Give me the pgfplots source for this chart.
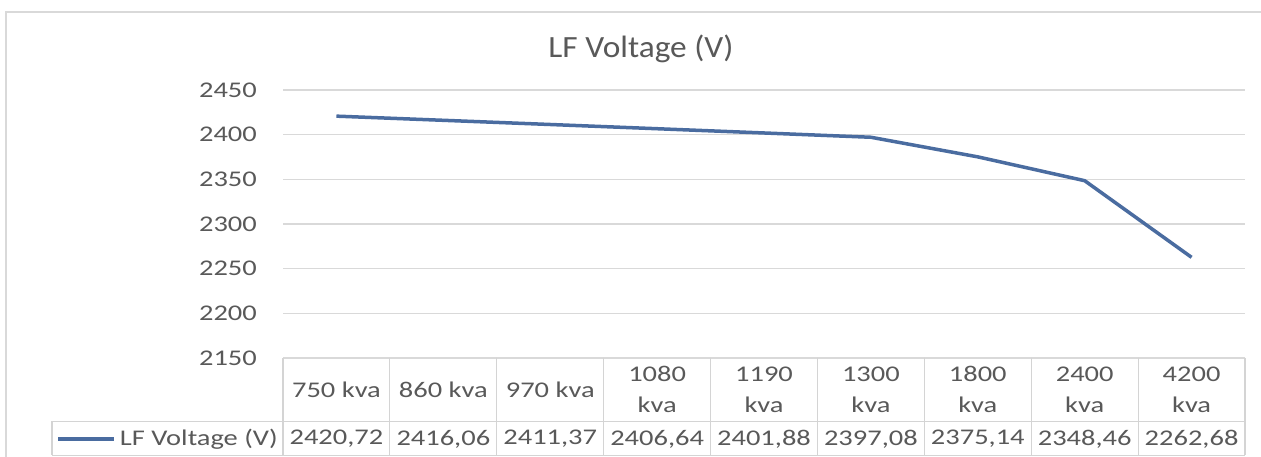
\documentclass[border=0pt]{standalone}
\usepackage{fontspec}
\setmainfont{Carlito}[FakeStretch=1.27]
\newfontfamily\titlefont{Carlito}[FakeStretch=1.08]
\usepackage{pgfplots}
\pgfplotsset{compat=1.18}
\usepackage{pgfplotstable}
\definecolor{txt}{HTML}{595959}
\definecolor{grd}{HTML}{D9D9D9}
\definecolor{tbl}{HTML}{D4D4D4}
\definecolor{ln}{HTML}{4A6CA0}

\pgfplotstableread{
x v
0 2420.72
1 2416.06
2 2411.37
3 2406.64
4 2401.88
5 2397.08
6 2375.14
7 2348.46
8 2262.68
}\data

\begin{document}
\begin{tikzpicture}[x=1bp,y=1bp]
\path[use as bounding box, fill=white] (0,0) rectangle (1261,457);
% chart area border
\draw[grd, line width=1.5bp] (6,0) -- (6,445) -- (1261,445);
% title
\node[anchor=base, inner sep=0pt, text=txt, font=\titlefont\fontsize{31}{36}\selectfont] at (641,399) {LF Voltage (V)};
\begin{axis}[
  at={(283bp,99bp)}, anchor=south west,
  scale only axis, width=962bp, height=268bp,
  xmin=-0.5, xmax=8.5, ymin=2150, ymax=2450,
  ytick={2150,2200,...,2450},
  xtick={0,...,8},
  xticklabels={750 kva, 860 kva, 970 kva, {1080\\kva}, {1190\\kva}, {1300\\kva}, {1800\\kva}, {2400\\kva}, {4200\\kva}},
  axis line style={draw=none},
  major tick length=0pt,
  ymajorgrids, grid style={grd, line width=1.2bp},
  clip=false,
  /pgf/number format/assume math mode=true,
  /pgf/number format/1000 sep={},
  tick label style={text=txt, font=\fontsize{22.5}{31}\selectfont},
  yticklabel style={anchor=east, inner sep=0pt, xshift=-26bp},
  xticklabel style={anchor=center, inner sep=0pt, yshift=-31.5bp, align=center},
]
\addplot[ln, line width=3.5bp, mark=none, line join=round] table[x=x, y=v]{\data};
\addplot[draw=none, mark=none, point meta=explicit,
  nodes near coords={\pgfmathprintnumber[fixed, fixed zerofill, precision=2, use comma, 1000 sep={}, assume math mode=true]{\pgfplotspointmeta}},
  nodes near coords style={anchor=center, inner sep=0pt, yshift=-81bp, text=txt, font=\fontsize{22.5}{27}\selectfont}]
  table[x=x, y expr=2150, meta=v]{\data};
\end{axis}
% data table frame
\foreach \k in {0,...,9} {
  \draw[tbl, line width=1.2bp] ({283+\k*106.889},99) -- ({283+\k*106.889},1.5);
}
\draw[tbl, line width=1.2bp] (52,35.5) -- (1245,35.5);
\draw[tbl, line width=1.2bp] (52,1.5) -- (1245,1.5);
\draw[tbl, line width=1.2bp] (52,35.5) -- (52,1.5);
% legend key
\draw[ln, line width=3.5bp] (58,18) -- (114,18);
\node[anchor=east, inner sep=0pt, text=txt, font=\fontsize{22.5}{27}\selectfont] at (278,18) {LF Voltage (V)};
\end{tikzpicture}
\end{document}
